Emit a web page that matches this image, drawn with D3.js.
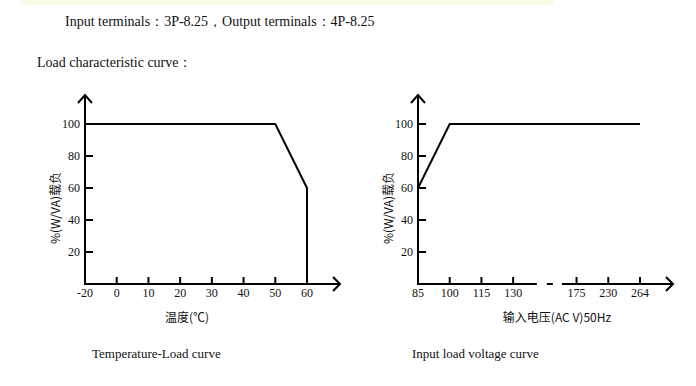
<!DOCTYPE html>
<html>
<head>
<meta charset="utf-8">
<script src="https://cdn.jsdelivr.net/npm/d3@7"></script>
<style>
  body { margin: 0; background: #fff; }
  text { fill: #111; }
</style>
</head>
<body>
<div id="chart"></div>
<script>
// data
var tempLabels = ["-20", "0", "10", "20", "30", "40", "50", "60"];
var tempX = ["-20", "50", "60", "60"];
var tempLoad = [100, 100, 60, 0];

var voltLabels = ["85", "100", "115", "130", "", "175", "230", "264"];
var voltX = ["85", "100", "264"];
var voltLoad = [60, 100, 100];

var loadTicks = [20, 40, 60, 80, 100];

var width = 696, height = 386;

var svg = d3.select("#chart").append("svg")
  .attr("width", width)
  .attr("height", height);

// pale strip at the top
svg.append("rect")
  .attr("x", 20).attr("y", 0)
  .attr("width", 534).attr("height", 5)
  .style("fill", "#fafde6");

svg.append("text")
  .attr("x", 65).attr("y", 26)
  .style("font-family", "Liberation Serif")
  .style("font-size", "14px")
  .text("Input terminals：3P-8.25，Output terminals：4P-8.25");

svg.append("text")
  .attr("x", 37).attr("y", 67)
  .style("font-family", "Liberation Serif")
  .style("font-size", "14px")
  .text("Load characteristic curve：");

var y = d3.scaleLinear().domain([0, 100]).range([284, 124]);

function drawPanel(opt) {
  var g = svg.append("g");
  var x = d3.scalePoint().domain(opt.labels).range([opt.x0, opt.x0 + 222]).padding(0);
  var x0 = opt.x0, y0 = y(0);
  var xEnd = x(opt.labels[opt.labels.length - 1]) + 33;

  // y axis with arrow
  g.append("line").attr("x1", x0).attr("x2", x0).attr("y1", y0 + 1).attr("y2", 95)
    .style("stroke", "#000").style("stroke-width", 2);
  g.append("path").attr("d", "M" + (x0 - 7) + "," + 103 + "L" + x0 + "," + 95 + "L" + (x0 + 7) + "," + 103)
    .style("fill", "none").style("stroke", "#000").style("stroke-width", 2);

  // x axis (broken on the voltage chart)
  if (opt.gap !== undefined) {
    var gc = x(opt.gap);
    g.append("line").attr("x1", x0).attr("x2", gc - 8).attr("y1", y0).attr("y2", y0)
      .style("stroke", "#000").style("stroke-width", 2);
    g.append("line").attr("x1", gc + 2).attr("x2", gc + 8).attr("y1", y0).attr("y2", y0)
      .style("stroke", "#000").style("stroke-width", 2);
    g.append("line").attr("x1", gc + 17).attr("x2", xEnd).attr("y1", y0).attr("y2", y0)
      .style("stroke", "#000").style("stroke-width", 2);
  } else {
    g.append("line").attr("x1", x0).attr("x2", xEnd).attr("y1", y0).attr("y2", y0)
      .style("stroke", "#000").style("stroke-width", 2);
  }
  g.append("path").attr("d", "M" + (xEnd - 7) + "," + (y0 - 7) + "L" + xEnd + "," + y0 + "L" + (xEnd - 7) + "," + (y0 + 7))
    .style("fill", "none").style("stroke", "#000").style("stroke-width", 2);

  // x ticks and labels
  opt.labels.forEach(function (d) {
    if (d === "") return;
    g.append("line").attr("x1", x(d)).attr("x2", x(d)).attr("y1", y0).attr("y2", y0 - 7)
      .style("stroke", "#000").style("stroke-width", 2);
    g.append("text").attr("x", x(d)).attr("y", y0 + 13)
      .attr("text-anchor", "middle")
      .style("font-family", "Liberation Serif").style("font-size", "12px")
      .text(d);
  });

  // y ticks and labels
  loadTicks.forEach(function (d) {
    g.append("line").attr("x1", x0).attr("x2", x0 + 8).attr("y1", y(d)).attr("y2", y(d))
      .style("stroke", "#000").style("stroke-width", 2);
    g.append("text").attr("x", x0 - 5).attr("y", y(d)).attr("dy", "0.35em")
      .attr("text-anchor", "end")
      .style("font-family", "Liberation Serif").style("font-size", "12px")
      .text(d);
  });

  // curve
  var pts = opt.xs.map(function (d, i) { return [x(d), y(opt.ys[i])]; });
  g.append("path").attr("d", d3.line()(pts))
    .style("fill", "none").style("stroke", "#000").style("stroke-width", 2);

  // axis titles
  g.append("text").attr("x", opt.titleX).attr("y", 322)
    .attr("text-anchor", "middle")
    .style("font-family", "Noto Sans CJK SC").style("font-size", "12px")
    .text(opt.xTitle);
  g.append("text")
    .attr("transform", "translate(" + (x0 - 29) + "," + 208 + ") rotate(-90)")
    .attr("dy", "0.35em")
    .attr("text-anchor", "middle")
    .style("font-family", "Noto Sans CJK SC").style("font-size", "12px")
    .text("%(W/VA)载负");

  // caption
  svg.append("text").attr("x", opt.capX).attr("y", 358)
    .style("font-family", "Liberation Serif").style("font-size", "13px")
    .text(opt.caption);
}

drawPanel({
  labels: tempLabels, xs: tempX, ys: tempLoad, x0: 85,
  xTitle: "温度(℃)", titleX: 187, caption: "Temperature-Load curve", capX: 92
});

drawPanel({
  labels: voltLabels, xs: voltX, ys: voltLoad, x0: 418, gap: "",
  xTitle: "输入电压(AC V)50Hz", titleX: 557, caption: "Input load voltage curve", capX: 412
});
</script>
</body>
</html>
